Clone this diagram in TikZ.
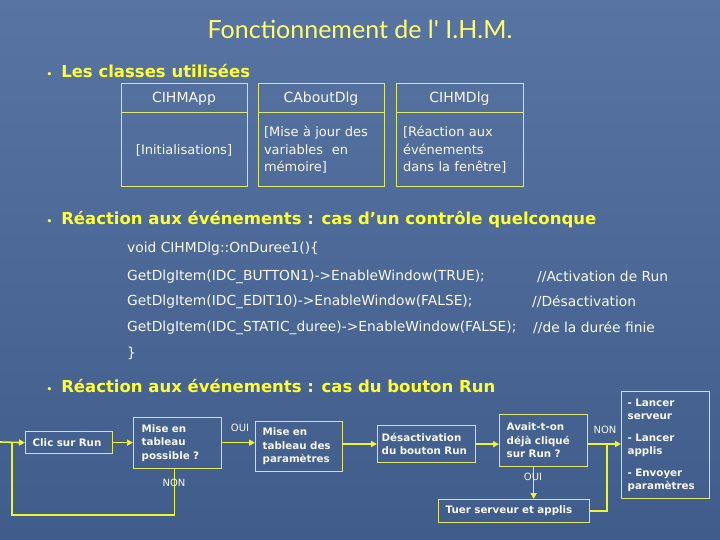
\documentclass[tikz,border=0pt]{standalone}
\usepackage{fontspec}
\usepackage{xcolor}
\usetikzlibrary{arrows.meta}
\setmainfont{DejaVu Sans}
\newfontfamily\titlefont{Lato}
\definecolor{bgtop}{RGB}{88,116,162}
\definecolor{bgbot}{RGB}{64,92,138}
\definecolor{titleyel}{RGB}{255,255,110}
\definecolor{headyel}{RGB}{255,255,50}
\definecolor{boxline}{RGB}{225,232,110}
\definecolor{arrowyel}{RGB}{240,245,50}
\definecolor{txtwhite}{RGB}{248,248,248}

\begin{document}
\begin{tikzpicture}[x=1pt,y=-1pt,
  head/.style={anchor=west,text=headyel,font=\bfseries\fontsize{16.5}{20}\selectfont},
  cell/.style={draw=boxline,line width=1pt,text=txtwhite,inner sep=0pt,
    font=\fontsize{13}{17.5}\selectfont},
  code/.style={anchor=west,text=txtwhite,inner sep=0pt,font=\fontsize{13.8}{15}\selectfont},
  flowbox/.style={draw=boxline,line width=1.3pt,text=txtwhite,anchor=north west,
    align=left,inner xsep=7pt,inner ysep=0pt,font=\bfseries\fontsize{10.3}{13.5}\selectfont},
  lbl/.style={text=txtwhite,inner sep=0pt,font=\fontsize{10}{12}\selectfont},
  line/.style={draw=arrowyel,line width=1.6pt},
  flow/.style={line,-{Triangle[length=6pt,width=6pt]}}]
\shade[top color=bgtop,bottom color=bgbot] (0,0) rectangle (720,540);
\useasboundingbox (0,0) rectangle (720,540);

% titre
\node[text=titleyel,font=\titlefont\fontsize{25}{27}\selectfont] (titre) at (360,29) {Fonctionnement de l' I.H.M.};

% classes
\node[head] (h1) at (43,71) {{\small •}\hspace{9pt}Les classes utilisées};
\node[cell,minimum width=126,minimum height=29,font=\fontsize{14}{16}\selectfont] (appH) at (184,98.5) {CIHMApp};
\node[cell,minimum width=126,minimum height=74] (appB) at (184,150) {[Initialisations]};
\node[cell,minimum width=126,minimum height=29,font=\fontsize{14}{16}\selectfont] (aboutH) at (321,98.5) {CAboutDlg};
\node[cell,minimum width=126,minimum height=74,text width=114,align=left] (aboutB) at (321,150)
  {[Mise à jour des\\variables\ \ en\\mémoire]};
\node[cell,minimum width=127,minimum height=29,font=\fontsize{14}{16}\selectfont] (dlgH) at (459.5,98.5) {CIHMDlg};
\node[cell,minimum width=127,minimum height=74,text width=113,align=left] (dlgB) at (459.5,150)
  {[Réaction aux\\événements\\dans la fenêtre]};

% controle quelconque
\node[head] (h2) at (43,220) {{\small •}\hspace{9pt}Réaction aux événements : cas d'un contrôle quelconque};
\node[code] (c0) at (127,249) {void CIHMDlg::OnDuree1()\{};
\node[code] (c1) at (127,277) {GetDlgItem(IDC\_BUTTON1)->EnableWindow(TRUE);};
\node[code] (c2) at (127,302) {GetDlgItem(IDC\_EDIT10)->EnableWindow(FALSE);};
\node[code] (c3) at (127,328) {GetDlgItem(IDC\_STATIC\_duree)->EnableWindow(FALSE);};
\node[code] (c4) at (127,353) {\}};
\node[code] (m1) at (537,277) {//Activation de Run};
\node[code] (m2) at (532,302) {//Désactivation};
\node[code] (m3) at (533,328) {//de la durée finie};

% bouton Run
\node[head] (h3) at (43,386) {{\small •}\hspace{9pt}Réaction aux événements : cas du bouton Run};
\node[flowbox,minimum width=87,minimum height=22,text width=73] (clic) at (25,431) {Clic sur Run};
\node[flowbox,minimum width=88,minimum height=51,text width=72] (mise1) at (133,417) {Mise en\\tableau\\possible ?};
\node[flowbox,minimum width=87,minimum height=50,text width=73] (mise2) at (255,421) {Mise en\\tableau des\\paramètres};
\node[flowbox,minimum width=98,minimum height=37,text width=90,inner xsep=4pt] (desact) at (377,425) {Désactivation\\du bouton Run};
\node[flowbox,minimum width=88,minimum height=52,text width=74] (avait) at (499,414) {Avait-t-on\\déjà cliqué\\sur Run ?};
\node[flowbox,minimum width=88,minimum height=107,text width=76,inner xsep=6pt] (actions) at (621,391)
  {- Lancer\\serveur\\[8pt]- Lancer\\applis\\[8pt]- Envoyer\\paramètres};
\node[flowbox,minimum width=151,minimum height=23,text width=137] (tuer) at (438,499) {Tuer serveur et applis};
\coordinate (loopin) at (0,442);
\coordinate (loopbl) at (12,515);
\coordinate (join) at (607,444);

\draw[flow] (loopin) -- (clic.west);
\draw[flow] (clic.east) -- (clic.east -| mise1.west);
\draw[flow] (mise1.east |- clic.east) -- (clic.east -| mise2.west);
\draw[flow] (mise2.east |- join) -- (join -| desact.west);
\draw[flow] (desact.east) -- (desact.east -| avait.west);
\draw[flow] (avait.east |- join) -- (join -| actions.west);
\draw[flow] ([xshift=-10pt]avait.south) -- ([xshift=-10pt]avait.south |- tuer.north);
\draw[line] (tuer.east) -| (join);
\draw[line] ([xshift=-3pt]mise1.south) |- (loopbl) -- (loopbl |- loopin);
\node[lbl] (oui1) at (240,428) {OUI};
\node[lbl] (non1) at (174,483) {NON};
\node[lbl] (non2) at (605,430) {NON};
\node[lbl] (oui2) at (533,477) {OUI};
\end{tikzpicture}
\end{document}
